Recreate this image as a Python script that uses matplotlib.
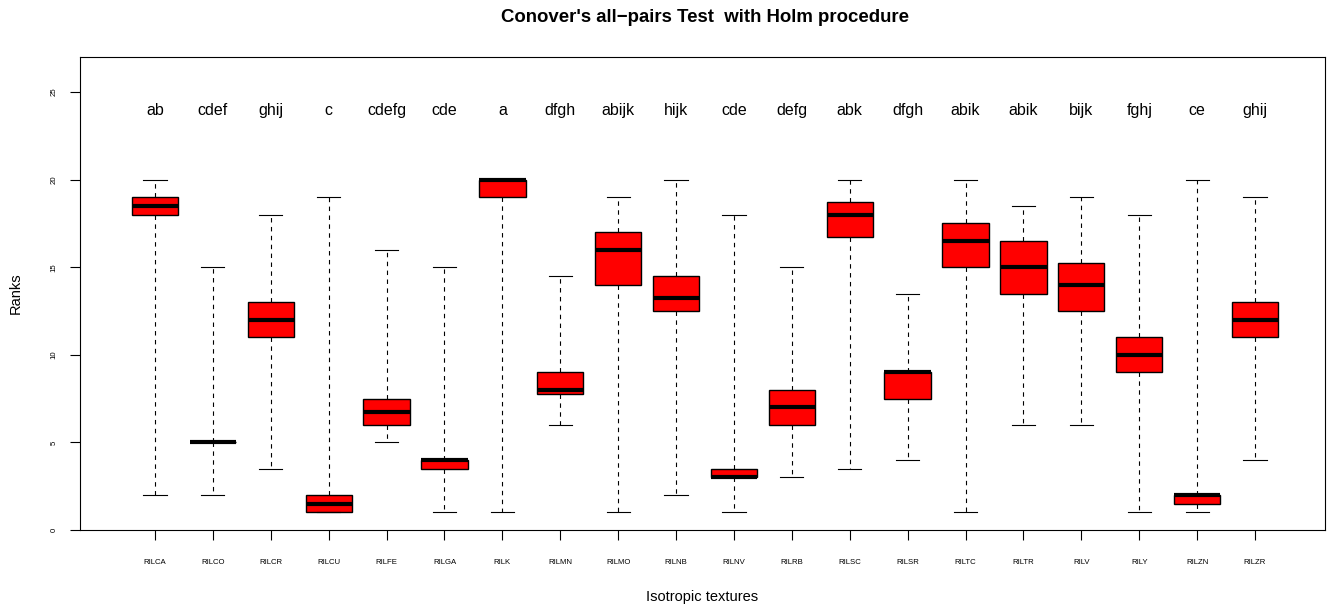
#Import the librarys needed
import matplotlib
matplotlib.use("Agg")
import matplotlib.pyplot as plt

plt.rcParams['font.family'] = ['Liberation Sans', 'DejaVu Sans']

#Group names and the compact letter display on top
groups = ["RILCA", "RILCO", "RILCR", "RILCU", "RILFE", "RILGA", "RILK", "RILMN", "RILMO", "RILNB",
          "RILNV", "RILRB", "RILSC", "RILSR", "RILTC", "RILTR", "RILV", "RILY", "RILZN", "RILZR"]
letters = ["ab", "cdef", "ghij", "c", "cdefg", "cde", "a", "dfgh", "abijk", "hijk",
           "cde", "defg", "abk", "dfgh", "abik", "abik", "bijk", "fghj", "ce", "ghij"]

#Five number summaries
whislo = [2, 2, 3.5, 1, 5, 1, 1, 6, 1, 2, 1, 3, 3.5, 4, 1, 6, 6, 1, 1, 4]
q1 = [18, 5, 11, 1, 6, 3.5, 19, 7.75, 14, 12.5, 3, 6, 16.75, 7.5, 15, 13.5, 12.5, 9, 1.5, 11]
med = [18.5, 5, 12, 1.5, 6.75, 4, 20, 8, 16, 13.25, 3, 7, 18, 9, 16.5, 15, 14, 10, 2, 12]
q3 = [19, 5, 13, 2, 7.5, 4, 20, 9, 17, 14.5, 3.5, 8, 18.75, 9, 17.5, 16.5, 15.25, 11, 2, 13]
whishi = [20, 15, 18, 19, 16, 15, 20, 14.5, 19, 20, 18, 15, 20, 13.5, 20, 18.5, 19, 18, 20, 19]

letterY = 23.7

#Build the stats for bxp
stats = []
for i in range(len(groups)):
    stats.append({"label": groups[i], "whislo": whislo[i], "q1": q1[i], "med": med[i],
                  "q3": q3[i], "whishi": whishi[i], "fliers": []})

fig = plt.figure(figsize=(13.33, 6.07), dpi=100)
ax = fig.add_axes([80/1333, 1 - 530/607, 1245/1333, 473/607])

positions = list(range(1, len(groups) + 1))
ax.bxp(stats, positions=positions, widths=0.8, capwidths=0.4, patch_artist=True,
       boxprops=dict(facecolor="red", edgecolor="black", linewidth=1),
       medianprops=dict(color="black", linewidth=3, solid_capstyle="butt"),
       whiskerprops=dict(color="black", linewidth=0.8, linestyle=(0, (4, 4))),
       capprops=dict(color="black", linewidth=0.8))

#Letters above each box
for i in range(len(groups)):
    ax.text(positions[i], letterY, letters[i], ha="center", va="baseline", fontsize=11.5)

#Axes formating
ax.set_xlim(1 - 75/57.9, 20 + 70/57.9)
ax.set_ylim(0, 27)
ax.set_yticks([0, 5, 10, 15, 20, 25])
ax.set_xticks(positions)
ax.set_xticklabels(groups, fontsize=5.6)
ax.tick_params(axis="y", labelsize=5.6, labelrotation=90, length=7, width=0.8, pad=9)
ax.tick_params(axis="x", length=7, width=0.8, pad=14)
for lab in ax.get_yticklabels():
    lab.set_va("center")
for s in ax.spines.values():
    s.set_linewidth(0.8)

ax.set_xlabel("Isotropic textures", fontsize=10.5, labelpad=17.5)
ax.set_ylabel("Ranks", fontsize=10.5, labelpad=20)

#Title over the middle of the plot region
fig.text(705/1333, 1 - 18/607, "Conover's all\u2212pairs Test  with Holm procedure",
         ha="center", va="center", fontsize=13.4, fontweight="bold")

fig.savefig("out.png", dpi=100)
